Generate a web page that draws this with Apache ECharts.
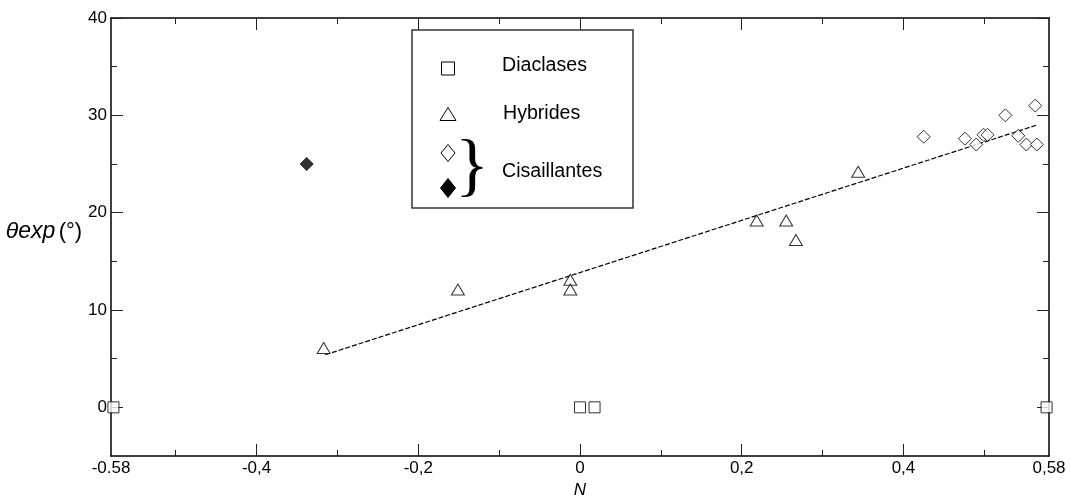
<!DOCTYPE html>
<html>
<head>
<meta charset="utf-8">
<script src="https://cdn.jsdelivr.net/npm/echarts@6/dist/echarts.min.js"></script>
<style>
html,body{margin:0;padding:0;background:#fff;}
#c{width:1071px;height:495px;}
</style>
</head>
<body>
<div id="c"></div>
<script>
// ---- data (N, theta_exp in degrees) ----
const diaclases = [[-0.577, 0], [0.0, 0], [0.018, 0], [0.577, 0]];
const hybrides = [[-0.317, 6.1], [-0.151, 12.1], [-0.012, 13.1], [-0.012, 12.1],
                  [0.2185, 19.2], [0.255, 19.2], [0.267, 17.2], [0.344, 24.2]];
const cisaillantesOpen = [[0.425, 27.8], [0.476, 27.6], [0.49, 27.0], [0.499, 28.0], [0.504, 28.0],
                          [0.526, 30.0], [0.542, 27.9], [0.552, 27.0], [0.563, 31.0], [0.565, 27.0]];
const cisaillantesFilled = [[-0.338, 25.0]];
const fitLineN = [-0.315, 0.565];
const fitLineTheta = [5.4, 29.0];

const xTickValues = [-0.58, -0.4, -0.2, 0, 0.2, 0.4, 0.58];
const xTickLabels = ['-0.58', '-0,4', '-0,2', '0', '0,2', '0,4', '0,58'];
const xMajorTicks = [-0.4, -0.2, 0, 0.2, 0.4];
const xMinorTicks = [-0.5, -0.3, -0.1, 0.1, 0.3, 0.5];
const yTickValues = [0, 10, 20, 30, 40];
const yTickLabels = ['0', '10', '20', '30', '40'];
const yMinorTicks = [5, 15, 25, 35];
const legendNames = ['Diaclases', 'Hybrides', 'Cisaillantes'];

const X_MIN = -0.58, X_MAX = 0.58, Y_MIN = -5, Y_MAX = 40;
const FONT = 'Liberation Sans, Arial, sans-serif';

function labelFor(values, labels) {
  return function (v) {
    const i = values.findIndex(t => Math.abs(t - v) < 1e-9);
    return i >= 0 ? labels[i] : '';
  };
}

function xAx(pos, ticks, len, showLine, showLabel) {
  return {
    type: 'value', min: X_MIN, max: X_MAX, position: pos,
    axisLine: { show: showLine, onZero: false, lineStyle: { color: '#000', width: 1.5 } },
    axisTick: { show: true, inside: true, length: len, customValues: ticks, lineStyle: { color: '#222', width: 1 } },
    axisLabel: showLabel ? {
      show: true, customValues: xTickValues, formatter: labelFor(xTickValues, xTickLabels),
      margin: 4, color: '#000', fontSize: 17, fontFamily: FONT
    } : { show: false },
    splitLine: { show: false },
    name: showLabel ? 'N' : '',
    nameLocation: 'middle', nameGap: 24,
    nameTextStyle: { fontStyle: 'italic', fontSize: 17, color: '#000', fontFamily: FONT }
  };
}
function yAx(pos, ticks, len, showLine, showLabel) {
  return {
    type: 'value', min: Y_MIN, max: Y_MAX, position: pos,
    axisLine: { show: showLine, onZero: false, lineStyle: { color: '#000', width: 1.5 } },
    axisTick: { show: true, inside: true, length: len, customValues: ticks, lineStyle: { color: '#222', width: 1 } },
    axisLabel: showLabel ? {
      show: true, customValues: yTickValues, formatter: labelFor(yTickValues, yTickLabels),
      margin: 4, color: '#000', fontSize: 17, fontFamily: FONT
    } : { show: false },
    splitLine: { show: false },
    name: showLabel ? '{a|θexp} {b|(°)}' : '',
    nameLocation: 'middle', nameRotate: 0, nameGap: 17,
    nameTextStyle: {
      padding: [0, 0, 10, 0],
      rich: {
        a: { fontStyle: 'italic', fontSize: 23, color: '#000', fontFamily: FONT },
        b: { fontSize: 22, color: '#000', fontFamily: FONT }
      }
    }
  };
}

const openStyle = { color: '#fff', borderColor: '#000', borderWidth: 1 };

// legend (drawn with graphic elements, including the brace)
const LX = 448;
const legendGraphics = [
  { type: 'rect', shape: { x: 412, y: 30, width: 221, height: 178 },
    style: { fill: '#fff', stroke: '#333', lineWidth: 1.5 }, z: 100 },
  { type: 'rect', shape: { x: LX - 6.5, y: 62, width: 13, height: 13 },
    style: { fill: '#fff', stroke: '#000', lineWidth: 1 }, z: 101 },
  { type: 'polygon', shape: { points: [[LX, 107.5], [LX - 8, 120.5], [LX + 8, 120.5]] },
    style: { fill: '#fff', stroke: '#000', lineWidth: 1 }, z: 101 },
  { type: 'polygon', shape: { points: [[LX, 144.5], [LX + 7, 153], [LX, 161.5], [LX - 7, 153]] },
    style: { fill: '#fff', stroke: '#000', lineWidth: 1 }, z: 101 },
  { type: 'polygon', shape: { points: [[LX, 178.5], [LX + 7.5, 188], [LX, 197.5], [LX - 7.5, 188]] },
    style: { fill: '#000', stroke: '#000', lineWidth: 1 }, z: 101 },
  { type: 'text', x: 502, y: 66, style: { text: legendNames[0], fontSize: 19.6, fontFamily: FONT, fill: '#000', verticalAlign: 'middle' }, z: 101 },
  { type: 'text', x: 503, y: 114, style: { text: legendNames[1], fontSize: 19.6, fontFamily: FONT, fill: '#000', verticalAlign: 'middle' }, z: 101 },
  { type: 'text', x: 502, y: 172, style: { text: legendNames[2], fontSize: 19.6, fontFamily: FONT, fill: '#000', verticalAlign: 'middle' }, z: 101 },
  { type: 'text', x: 472, y: 170, style: { text: '}', fontSize: 70, fontFamily: 'Liberation Serif, Times New Roman, serif', fill: '#000', align: 'center', verticalAlign: 'middle' }, z: 101 }
];

const chart = echarts.init(document.getElementById('c'), null, { renderer: 'canvas' });
chart.setOption({
  animation: false,
  backgroundColor: '#fff',
  grid: { left: 111, right: 22, top: 18, bottom: 39, containLabel: false, outerBoundsMode: 'none' },
  xAxis: [
    xAx('bottom', xMajorTicks, 12, true, true),
    xAx('bottom', xMinorTicks, 6, false, false),
    xAx('top', xMajorTicks, 12, true, false),
    xAx('top', xMinorTicks, 6, false, false)
  ],
  yAxis: [
    yAx('left', yTickValues, 12, true, true),
    yAx('left', yMinorTicks, 6, false, false),
    yAx('right', yTickValues, 12, true, false),
    yAx('right', yMinorTicks, 6, false, false)
  ],
  graphic: legendGraphics,
  series: [
    {
      name: 'fit', type: 'line', z: 1,
      data: fitLineN.map((n, i) => [n, fitLineTheta[i]]),
      showSymbol: false, symbol: 'none',
      lineStyle: { color: '#000', width: 1.2, type: [5, 2] }
    },
    {
      name: legendNames[0], type: 'scatter', clip: false, z: 3,
      data: diaclases, symbol: 'rect', symbolSize: 11, itemStyle: openStyle
    },
    {
      name: legendNames[1], type: 'scatter', clip: false, z: 3,
      data: hybrides, symbol: 'triangle', symbolSize: [13, 11], itemStyle: openStyle
    },
    {
      name: legendNames[2], type: 'scatter', clip: false, z: 3,
      data: cisaillantesOpen, symbol: 'diamond', symbolSize: [13, 13], itemStyle: openStyle
    },
    {
      name: legendNames[2] + ' ', type: 'scatter', clip: false, z: 3,
      data: cisaillantesFilled, symbol: 'diamond', symbolSize: [13, 13],
      itemStyle: { color: '#000', borderColor: '#000', borderWidth: 1 }
    }
  ]
});
</script>
</body>
</html>
